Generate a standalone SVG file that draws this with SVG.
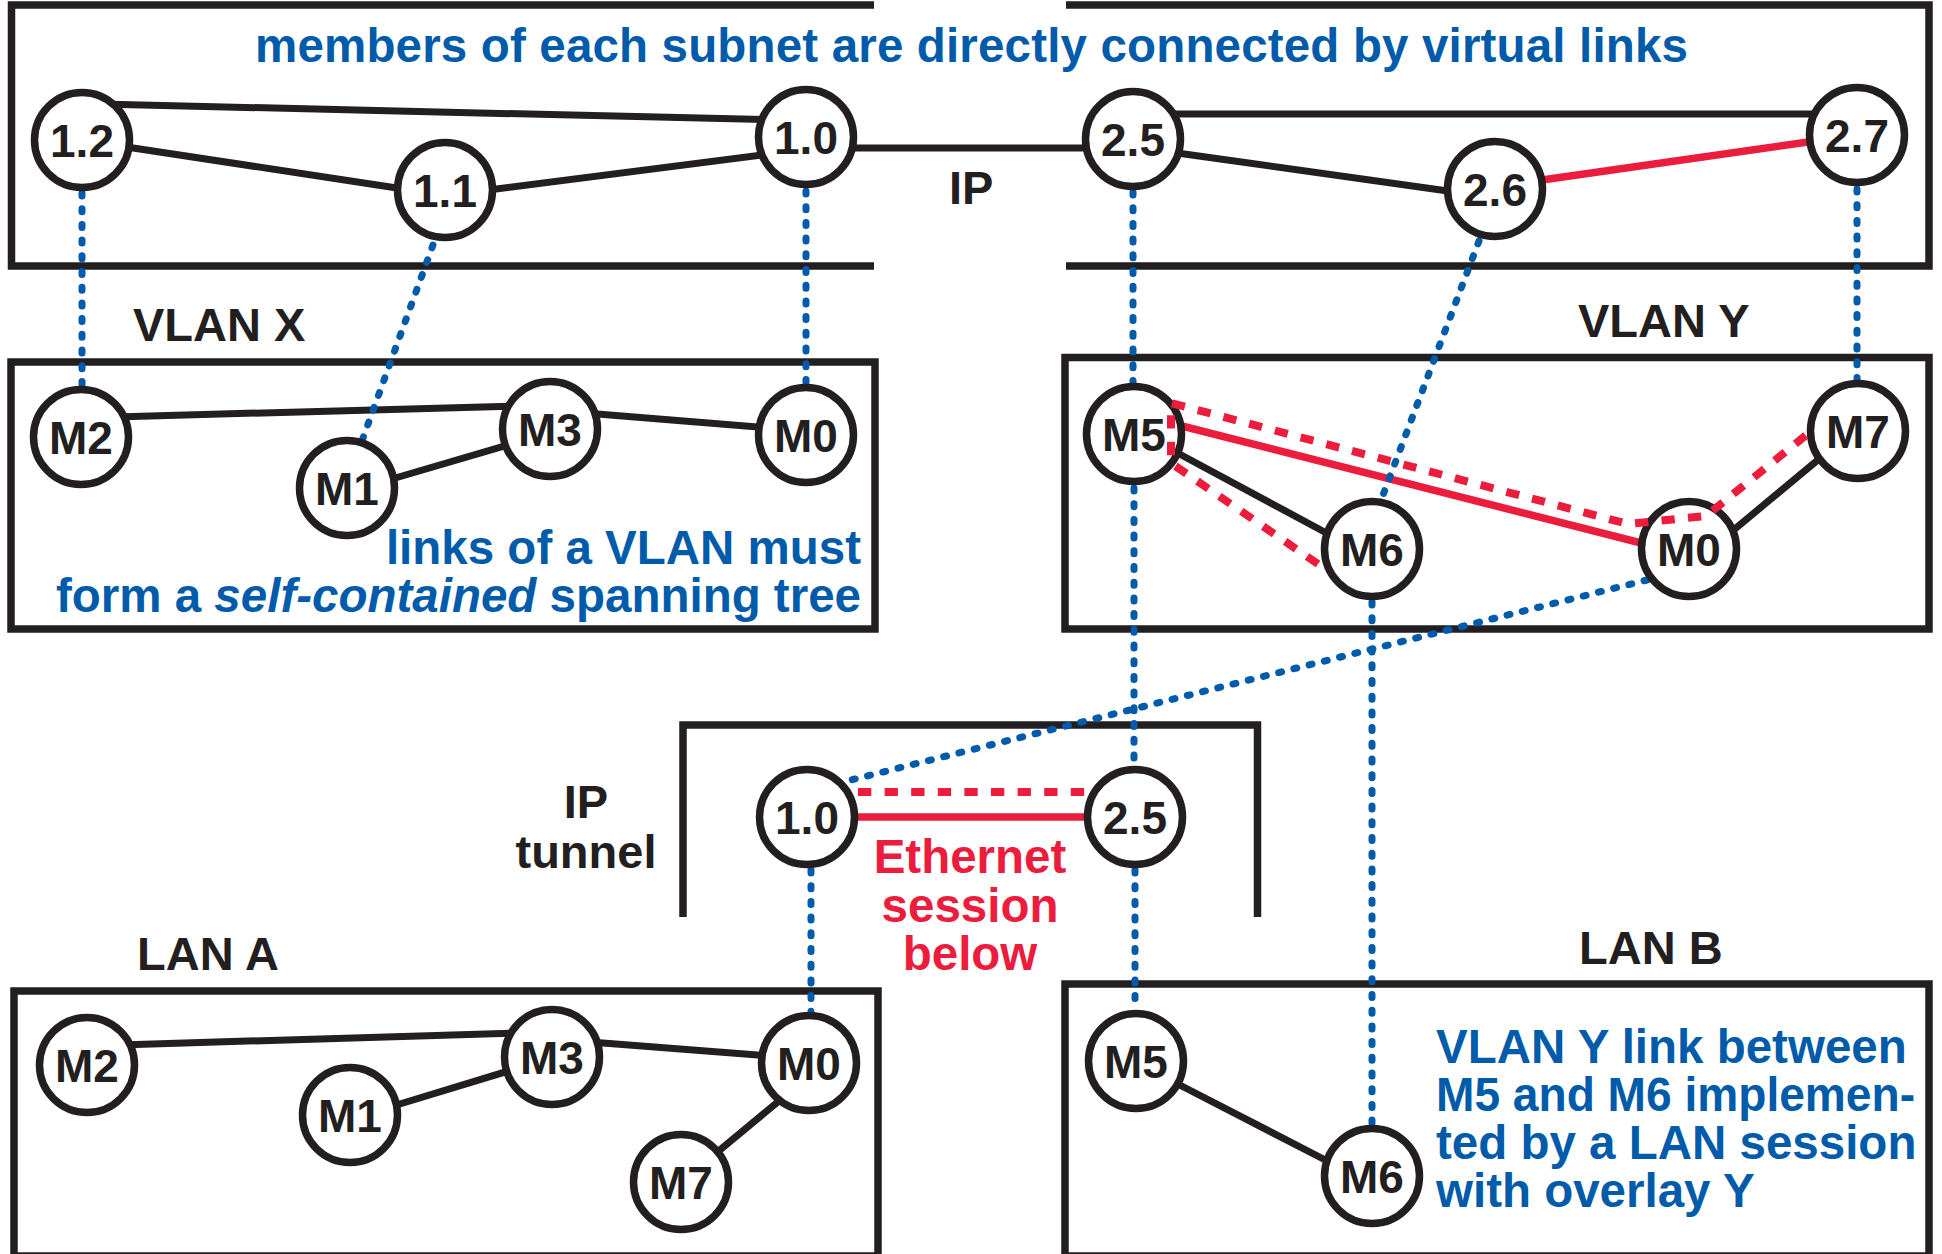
<svg xmlns="http://www.w3.org/2000/svg" width="1942" height="1254" viewBox="0 0 1942 1254">
  <style>
    .frame { fill: none; stroke: #231f20; stroke-width: 7.5; }
    .link { fill: none; stroke: #231f20; stroke-width: 7; }
    .eth { fill: none; stroke: #ec1c3d; stroke-width: 7.5; }
    .eth-dash { fill: none; stroke: #ec1c3d; stroke-width: 8; stroke-dasharray: 13.3 13.3; }
    .map { fill: none; stroke: #005baa; stroke-width: 7; stroke-linecap: round; stroke-dasharray: 3 12.7; }
    .node circle { fill: #fff; stroke: #231f20; stroke-width: 7.5; }
    .node text { font-family: "Liberation Sans", Arial, Helvetica, sans-serif; font-weight: bold; font-size: 46px; fill: #231f20; text-anchor: middle; }
    .label { font-family: "Liberation Sans", Arial, Helvetica, sans-serif; font-weight: bold; font-size: 47px; fill: #231f20; }
    .note { font-family: "Liberation Sans", Arial, Helvetica, sans-serif; font-weight: bold; font-size: 47.5px; fill: #005baa; }
    .note-red { font-family: "Liberation Sans", Arial, Helvetica, sans-serif; font-weight: bold; font-size: 47.5px; fill: #ec1c3d; text-anchor: middle; }
  </style>

  <!-- layer frames -->
  <g id="frames">
    <path class="frame" d="M874,5 H11.5 V266 H874"/>
    <path class="frame" d="M1066,5 H1929 V266 H1066"/>
    <rect class="frame" x="11" y="362" width="864" height="267"/>
    <rect class="frame" x="1065" y="357.5" width="864" height="271.5"/>
    <path class="frame" d="M683,917 V725 H1257.5 V917"/>
    <rect class="frame" x="14" y="991" width="864" height="265"/>
    <rect class="frame" x="1065" y="984" width="864" height="272"/>
  </g>

  <!-- labels -->
  <g id="labels">
    <text class="note" x="255" y="62" textLength="1433" lengthAdjust="spacing">members of each subnet are directly connected by virtual links</text>
    <text class="label" x="949" y="204">IP</text>
    <text class="label" x="133" y="341">VLAN X</text>
    <text class="label" x="1578" y="337">VLAN Y</text>
    <text class="note" text-anchor="end"><tspan x="861" y="564">links of a VLAN must</tspan><tspan x="861" y="612">form a <tspan font-style="italic">self-contained</tspan> spanning tree</tspan></text>
    <text class="label" text-anchor="middle"><tspan x="586" y="818">IP</tspan><tspan x="586" y="868">tunnel</tspan></text>
    <text class="note-red"><tspan x="970" y="873">Ethernet</tspan><tspan x="970" y="922">session</tspan><tspan x="970" y="970">below</tspan></text>
    <text class="label" x="137" y="970">LAN A</text>
    <text class="label" x="1579" y="964">LAN B</text>
    <text class="note" x="1436" y="1063">VLAN Y link between</text>
    <text class="note" x="1436" y="1111" textLength="479" lengthAdjust="spacingAndGlyphs">M5 and M6 implemen-</text>
    <text class="note" x="1436" y="1159">ted by a LAN session</text>
    <text class="note" x="1436" y="1207">with overlay Y</text>
  </g>

  <!-- connectors -->
  <g id="connectors">
    <!-- IP subnet 1 -->
    <line class="link" x1="100" y1="104" x2="780" y2="120"/>
    <line class="link" x1="120" y1="146" x2="410" y2="190"/>
    <line class="link" x1="480" y1="191" x2="770" y2="154"/>
    <!-- IP hop between subnets -->
    <line class="link" x1="850" y1="148" x2="1090" y2="148"/>
    <!-- IP subnet 2 -->
    <line class="link" x1="1170" y1="114" x2="1820" y2="114"/>
    <line class="link" x1="1170" y1="152" x2="1455" y2="192"/>
    <line class="eth" x1="1535" y1="181" x2="1815" y2="141"/>

    <!-- VLAN X -->
    <line class="link" x1="115" y1="417" x2="515" y2="406"/>
    <line class="link" x1="385" y1="481" x2="515" y2="443"/>
    <line class="link" x1="585" y1="413" x2="770" y2="428"/>

    <!-- VLAN Y -->
    <line class="link" x1="1172" y1="450" x2="1332" y2="536"/>
    <line class="link" x1="1730" y1="533" x2="1825" y2="454"/>
    <line class="eth" x1="1178" y1="425" x2="1645" y2="544"/>

    <!-- IP tunnel -->
    <line class="eth" x1="850" y1="817" x2="1092" y2="817"/>

    <!-- LAN A -->
    <line class="link" x1="120" y1="1045" x2="515" y2="1033"/>
    <line class="link" x1="390" y1="1107" x2="515" y2="1069"/>
    <line class="link" x1="590" y1="1042" x2="770" y2="1056"/>
    <line class="link" x1="785" y1="1096" x2="715" y2="1154"/>

    <!-- LAN B -->
    <line class="link" x1="1170" y1="1080" x2="1335" y2="1165"/>

    <!-- mappings between layers -->
    <line class="map" x1="82" y1="193" x2="82" y2="386"/>
    <line class="map" x1="433" y1="245" x2="363" y2="438"/>
    <line class="map" x1="806" y1="191" x2="806" y2="384"/>
    <line class="map" x1="1133" y1="192" x2="1133" y2="384"/>
    <line class="map" x1="1479" y1="241" x2="1383" y2="495"/>
    <line class="map" x1="1857" y1="189" x2="1857" y2="381"/>
    <line class="map" x1="1134" y1="488" x2="1134" y2="768"/>
    <line class="map" x1="1647" y1="580" x2="851" y2="780"/>
    <line class="map" x1="1372" y1="602" x2="1372" y2="1126"/>
    <line class="map" x1="811" y1="870" x2="811" y2="1012"/>
    <line class="map" x1="1135" y1="870" x2="1135" y2="1010"/>
  </g>

  <!-- nodes: IP layer -->
  <g id="ip-1-2" class="node"><circle cx="82" cy="140" r="47.5"/><text x="82" y="156.5">1.2</text></g>
  <g id="ip-1-1" class="node"><circle cx="445" cy="190" r="47.5"/><text x="445" y="206.5">1.1</text></g>
  <g id="ip-1-0" class="node"><circle cx="806" cy="137" r="47.5"/><text x="806" y="153.5">1.0</text></g>
  <g id="ip-2-5" class="node"><circle cx="1133" cy="139" r="47.5"/><text x="1133" y="155.5">2.5</text></g>
  <g id="ip-2-6" class="node"><circle cx="1495" cy="189" r="47.5"/><text x="1495" y="205.5">2.6</text></g>
  <g id="ip-2-7" class="node"><circle cx="1857" cy="135" r="47.5"/><text x="1857" y="151.5">2.7</text></g>

  <!-- nodes: VLAN X -->
  <g id="vx-m2" class="node"><circle cx="81" cy="437" r="47.5"/><text x="81" y="453.5">M2</text></g>
  <g id="vx-m1" class="node"><circle cx="347" cy="488" r="47.5"/><text x="347" y="504.5">M1</text></g>
  <g id="vx-m3" class="node"><circle cx="550" cy="429" r="47.5"/><text x="550" y="445.5">M3</text></g>
  <g id="vx-m0" class="node"><circle cx="806" cy="435" r="47.5"/><text x="806" y="451.5">M0</text></g>

  <!-- nodes: VLAN Y -->
  <g id="vy-m5" class="node"><circle cx="1134" cy="434" r="47.5"/><text x="1134" y="450.5">M5</text></g>
  <g id="vy-m6" class="node"><circle cx="1372" cy="549" r="47.5"/><text x="1372" y="565.5">M6</text></g>
  <g id="vy-m0" class="node"><circle cx="1689" cy="549" r="47.5"/><text x="1689" y="565.5">M0</text></g>
  <g id="vy-m7" class="node"><circle cx="1858" cy="431" r="47.5"/><text x="1858" y="447.5">M7</text></g>

  <!-- nodes: IP tunnel -->
  <g id="tun-1-0" class="node"><circle cx="807" cy="817" r="47.5"/><text x="807" y="833.5">1.0</text></g>
  <g id="tun-2-5" class="node"><circle cx="1135" cy="817" r="47.5"/><text x="1135" y="833.5">2.5</text></g>

  <!-- nodes: LAN A -->
  <g id="la-m2" class="node"><circle cx="87" cy="1065" r="47.5"/><text x="87" y="1081.5">M2</text></g>
  <g id="la-m1" class="node"><circle cx="350" cy="1115" r="47.5"/><text x="350" y="1131.5">M1</text></g>
  <g id="la-m3" class="node"><circle cx="552" cy="1057" r="47.5"/><text x="552" y="1073.5">M3</text></g>
  <g id="la-m0" class="node"><circle cx="809" cy="1063" r="47.5"/><text x="809" y="1079.5">M0</text></g>
  <g id="la-m7" class="node"><circle cx="681" cy="1182" r="47.5"/><text x="681" y="1198.5">M7</text></g>

  <!-- nodes: LAN B -->
  <g id="lb-m5" class="node"><circle cx="1136" cy="1061" r="47.5"/><text x="1136" y="1077.5">M5</text></g>
  <g id="lb-m6" class="node"><circle cx="1372" cy="1176" r="47.5"/><text x="1372" y="1192.5">M6</text></g>

  <!-- Ethernet session paths, drawn over the nodes -->
  <g id="session-paths">
    <polyline class="eth-dash" points="1318,564 1171,463 1171,403 1628,524 1706,516 1810,432"/>
    <line class="eth-dash" x1="858" y1="792" x2="1088" y2="792"/>
  </g>
</svg>
